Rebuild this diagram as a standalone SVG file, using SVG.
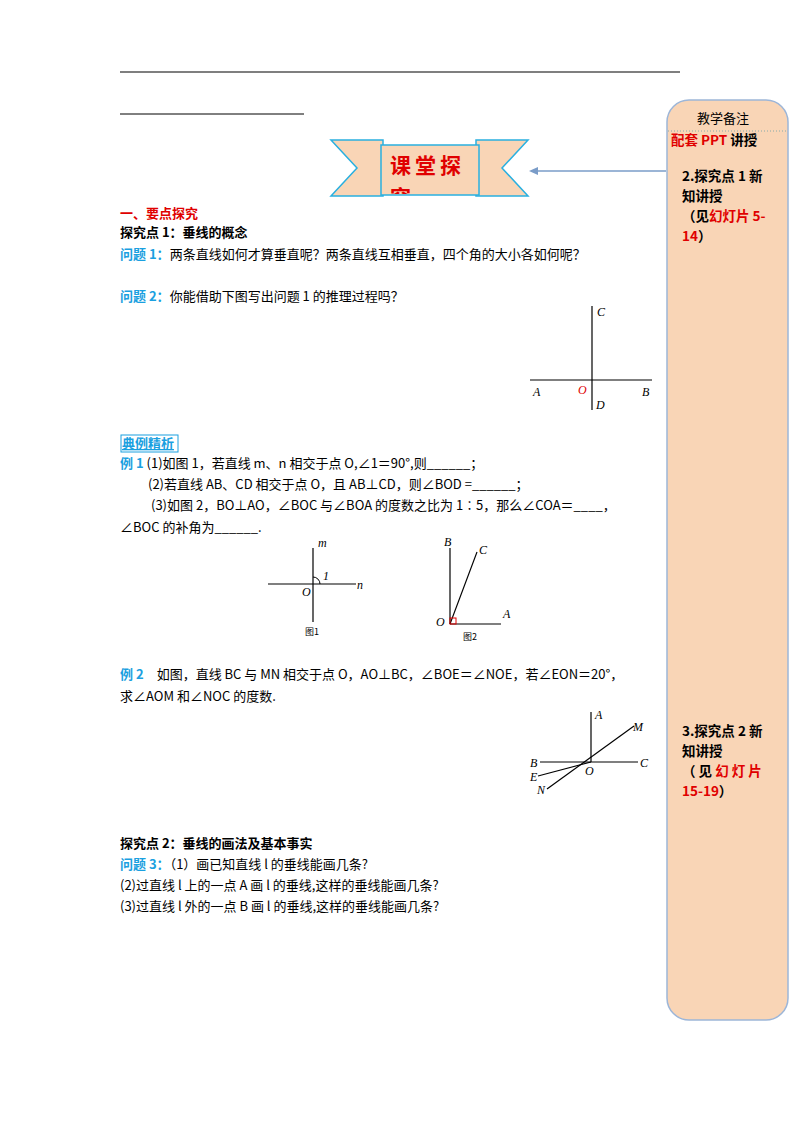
<svg xmlns="http://www.w3.org/2000/svg" width="800" height="1132" viewBox="0 0 800 1132">
<style>
text{font-family:"Noto Sans CJK SC","Liberation Sans",sans-serif;font-size:13px;fill:#000}
.b{font-weight:bold}
.bl{fill:#1aa0e0;font-weight:bold}
.r{fill:#e00000}
.it{font-family:"Liberation Serif",serif;font-style:italic;font-size:12px}
.ln{stroke:#000;stroke-width:1.2;fill:none}
.side{font-weight:bold;font-size:13.5px}
</style>
<defs><clipPath id="c"><rect x="381" y="185" width="98" height="9"/></clipPath></defs>
<rect width="800" height="1132" fill="#fff"/>
<line x1="120" y1="72" x2="680" y2="72" stroke="#000" stroke-width="1.2"/>
<line x1="120" y1="114" x2="304" y2="114" stroke="#000" stroke-width="1"/>
<g id="sidebar">
<rect x="667" y="100" width="121" height="920" rx="22" fill="#f9d5b6" stroke="#9db6d8" stroke-width="1.5"/>
<line x1="668" y1="131" x2="787" y2="131" stroke="#8aa" stroke-dasharray="1,2"/>
<text x="697" y="123" class="side" style="font-weight:normal;font-size:13px">教学备注</text>
<text x="671" y="145" class="side"><tspan class="r">配套 PPT</tspan> 讲授</text>
<text x="682" y="181" class="side">2.探究点 1 新</text>
<text x="682" y="201" class="side">知讲授</text>
<text x="682" y="221" class="side">（见<tspan class="r">幻灯片 5-</tspan></text>
<text x="682" y="241" class="side"><tspan class="r">14</tspan>）</text>
<text x="682" y="736" class="side">3.探究点 2 新</text>
<text x="682" y="756" class="side">知讲授</text>
<text x="682" y="776" class="side">（ 见 <tspan class="r">幻 灯 片</tspan></text>
<text x="682" y="796" class="side"><tspan class="r">15-19</tspan>）</text>
</g>
<g id="banner">
<polygon points="331,140 383,140 383,196 331,196 357,168" fill="#f9d5b6" stroke="#2ab0e0" stroke-width="1.5"/>
<polygon points="528,140 476,140 476,196 528,196 502,168" fill="#f9d5b6" stroke="#2ab0e0" stroke-width="1.5"/>
<rect x="381" y="145" width="98" height="50" fill="#f9d5b6" stroke="#2ab0e0" stroke-width="1.5"/>
<text x="390" y="173" style="font-size:21px;font-weight:bold;fill:#e00000;letter-spacing:4px">课堂探</text>
<text x="390" y="205" style="font-size:21px;font-weight:bold;fill:#e00000" clip-path="url(#c)">究</text>
</g>
<g id="connectors">
<line x1="666" y1="171" x2="536" y2="171" stroke="#7a9cc8" stroke-width="1.5"/>
<polygon points="529,171 538,167 538,175" fill="#7a9cc8"/>
</g>
<text x="120" y="218" class="b r">一、要点探究</text>
<text x="120" y="237" class="b">探究点 1：垂线的概念</text>
<text x="120" y="259"><tspan class="bl">问题 1：</tspan>两条直线如何才算垂直呢？两条直线互相垂直，四个角的大小各如何呢？</text>
<text x="120" y="301"><tspan class="bl">问题 2：</tspan>你能借助下图写出问题 1 的推理过程吗？</text>
<g id="fig0">
<line class="ln" x1="530" y1="380" x2="652" y2="380"/>
<line class="ln" x1="592" y1="306" x2="592" y2="410"/>
<text x="597" y="316" class="it">C</text>
<text x="533" y="396" class="it">A</text>
<text x="642" y="396" class="it">B</text>
<text x="578" y="394" class="it" style="fill:#e00000">O</text>
<text x="596" y="409" class="it">D</text>
</g>
<rect x="121" y="435" width="57" height="17" fill="none" stroke="#1aa0e0"/>
<text x="122" y="448" class="bl" style="text-decoration:underline">典例精析</text>
<text x="120" y="468"><tspan class="bl">例 1</tspan> (1)如图 1，若直线 m、n 相交于点 O,∠1＝90°,则______；</text>
<text x="148" y="489">(2)若直线 AB、CD 相交于点 O，且 AB⊥CD，则∠BOD =______；</text>
<text x="151" y="510">(3)如图 2，BO⊥AO，∠BOC 与∠BOA 的度数之比为 1∶5，那么∠COA＝____，</text>
<text x="120" y="532">∠BOC 的补角为______.</text>
<g id="fig1">
<line class="ln" x1="268" y1="584" x2="356" y2="584"/>
<line class="ln" x1="313" y1="548" x2="313" y2="622"/>
<path d="M313,577 A7,7 0 0 1 320,584" fill="none" stroke="#000"/>
<text x="318" y="547" class="it">m</text>
<text x="323" y="580" class="it">1</text>
<text x="357" y="589" class="it">n</text>
<text x="302" y="596" class="it">O</text>
<text x="305" y="635" style="font-size:9px">图1</text>
</g>
<g id="fig2">
<line class="ln" x1="450" y1="548" x2="450" y2="624"/>
<line class="ln" x1="450" y1="624" x2="501" y2="624"/>
<line class="ln" x1="450" y1="624" x2="477" y2="552"/>
<rect x="450" y="618" width="6" height="6" fill="none" stroke="#e00000"/>
<text x="444" y="546" class="it">B</text>
<text x="479" y="554" class="it">C</text>
<text x="503" y="618" class="it">A</text>
<text x="436" y="626" class="it">O</text>
<text x="463" y="640" style="font-size:9px">图2</text>
</g>
<text x="120" y="679"><tspan class="bl">例 2</tspan>　如图，直线 BC 与 MN 相交于点 O，AO⊥BC，∠BOE＝∠NOE，若∠EON＝20°，</text>
<text x="120" y="701">求∠AOM 和∠NOC 的度数.</text>
<g id="fig3">
<line class="ln" x1="591" y1="712" x2="591" y2="762" stroke-width="1"/>
<line class="ln" x1="540" y1="762" x2="638" y2="762" stroke-width="1"/>
<line class="ln" x1="547" y1="789" x2="634" y2="726" stroke-width="1"/>
<line class="ln" x1="538" y1="776" x2="591" y2="762" stroke-width="1"/>
<text x="595" y="719" class="it">A</text>
<text x="633" y="731" class="it">M</text>
<text x="640" y="767" class="it">C</text>
<text x="530" y="767" class="it">B</text>
<text x="530" y="781" class="it">E</text>
<text x="537" y="794" class="it">N</text>
<text x="585" y="775" class="it">O</text>
</g>
<text x="120" y="848" class="b">探究点 2：垂线的画法及基本事实</text>
<text x="120" y="869"><tspan class="bl">问题 3：</tspan>（1）画已知直线 l 的垂线能画几条?</text>
<text x="120" y="890">(2)过直线 l 上的一点 A 画 l 的垂线,这样的垂线能画几条?</text>
<text x="120" y="911">(3)过直线 l 外的一点 B 画 l 的垂线,这样的垂线能画几条?</text>
</svg>
